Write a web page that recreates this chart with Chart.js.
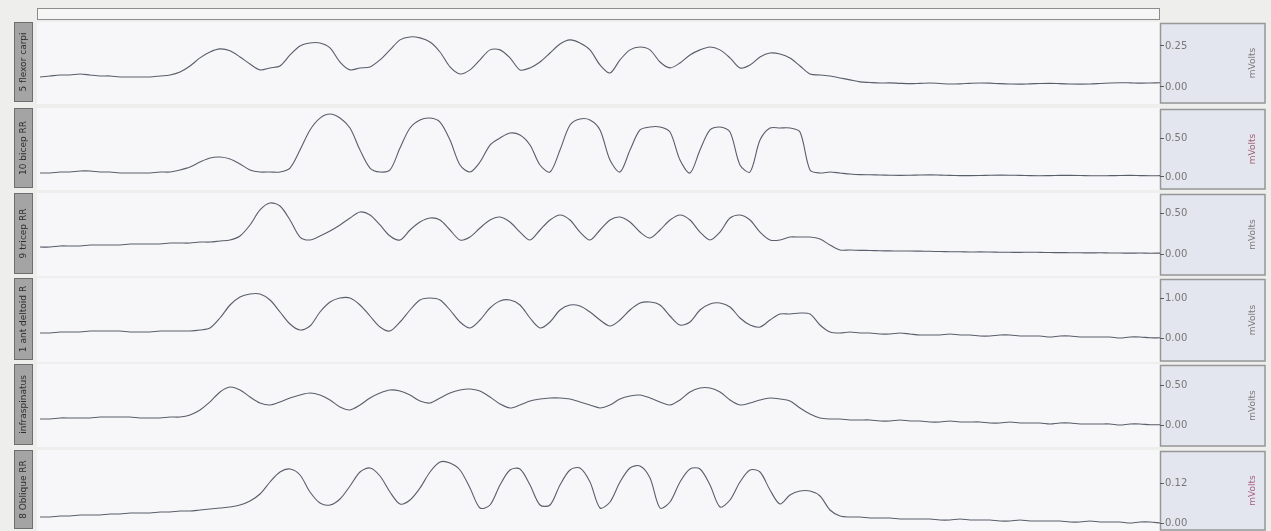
<!DOCTYPE html>
<html>
<head>
<meta charset="utf-8">
<title>EMG channels</title>
<script src="https://cdn.jsdelivr.net/npm/chart.js@4.4.1/dist/chart.umd.min.js"></script>
<style>
  html, body { margin: 0; padding: 0; background: #eeeeec; }
  #board { position: relative; width: 1271px; height: 531px; overflow: hidden; }
  #board canvas { position: absolute; left: 0; }
  #timebar { position: absolute; left: 37px; top: 8px; width: 1121px; height: 10px;
             border: 1px solid #8c8c8c; background: #f6f6f6; }
</style>
</head>
<body>
<div id="board"><div id="timebar"></div></div>
<script>
// Rectified, smoothed EMG envelopes (mV), one sample every 0.1 s
const flexorCarpi = [
  0.061,0.067,0.073,0.073,0.079,0.073,0.067,0.067,0.061,0.061,0.061,0.061,0.067,0.073,0.091,0.128,0.177,0.213,0.232,0.220,
  0.183,0.140,0.104,0.116,0.128,0.195,0.250,0.268,0.268,0.238,0.152,0.104,0.116,0.122,0.165,0.226,0.287,0.305,0.299,0.274,
  0.213,0.122,0.079,0.104,0.165,0.226,0.226,0.177,0.104,0.116,0.152,0.207,0.262,0.287,0.268,0.226,0.134,0.085,0.165,0.226,
  0.244,0.226,0.152,0.116,0.146,0.195,0.226,0.244,0.226,0.177,0.116,0.134,0.183,0.207,0.201,0.177,0.128,0.079,0.073,0.067,
  0.055,0.043,0.031,0.027,0.024,0.025,0.022,0.020,0.022,0.024,0.021,0.018,0.019,0.022,0.024,0.023,0.020,0.018,0.017,0.019,
  0.021,0.022,0.020,0.018,0.017,0.018,0.021,0.024,0.026,0.025,0.023,0.024,0.026
];
const bicep = [
  0.051,0.051,0.064,0.064,0.077,0.077,0.064,0.064,0.051,0.051,0.051,0.051,0.064,0.064,0.090,0.128,0.192,0.244,0.256,0.231,
  0.167,0.090,0.064,0.064,0.064,0.115,0.346,0.603,0.756,0.808,0.756,0.628,0.346,0.115,0.064,0.090,0.372,0.628,0.731,0.756,
  0.705,0.474,0.154,0.064,0.192,0.410,0.500,0.564,0.538,0.410,0.154,0.064,0.346,0.667,0.744,0.731,0.603,0.218,0.064,0.346,
  0.603,0.641,0.641,0.577,0.218,0.051,0.346,0.603,0.641,0.577,0.154,0.064,0.474,0.628,0.628,0.628,0.577,0.090,0.051,0.064,
  0.051,0.038,0.030,0.028,0.025,0.022,0.020,0.022,0.025,0.027,0.024,0.020,0.018,0.017,0.019,0.022,0.024,0.023,0.020,0.017,
  0.016,0.018,0.020,0.021,0.019,0.016,0.015,0.017,0.019,0.020,0.018,0.016,0.017
];
const tricep = [
  0.085,0.085,0.098,0.098,0.098,0.110,0.110,0.110,0.110,0.122,0.122,0.122,0.122,0.134,0.134,0.134,0.146,0.146,0.159,0.171,
  0.220,0.354,0.537,0.622,0.585,0.415,0.207,0.171,0.220,0.280,0.354,0.439,0.512,0.476,0.354,0.220,0.171,0.293,0.390,0.439,
  0.415,0.293,0.171,0.207,0.317,0.415,0.451,0.390,0.268,0.171,0.293,0.415,0.476,0.415,0.268,0.171,0.293,0.415,0.451,0.390,
  0.268,0.195,0.293,0.415,0.476,0.415,0.268,0.171,0.268,0.439,0.476,0.415,0.268,0.171,0.171,0.207,0.207,0.207,0.183,0.110,
  0.049,0.049,0.045,0.043,0.040,0.038,0.036,0.037,0.035,0.033,0.030,0.028,0.027,0.025,0.026,0.024,0.022,0.021,0.020,0.022,
  0.020,0.018,0.017,0.016,0.015,0.014,0.015,0.013,0.012,0.011,0.012,0.010,0.011
];
const antDeltoid = [
  0.125,0.125,0.150,0.150,0.150,0.175,0.175,0.175,0.175,0.150,0.150,0.150,0.175,0.175,0.175,0.175,0.200,0.250,0.500,0.825,
  1.025,1.100,1.100,0.950,0.650,0.350,0.200,0.300,0.650,0.900,1.000,1.000,0.825,0.550,0.275,0.175,0.400,0.700,0.950,1.000,
  0.950,0.700,0.400,0.250,0.450,0.750,0.925,0.950,0.825,0.500,0.250,0.400,0.700,0.825,0.800,0.650,0.450,0.300,0.450,0.700,
  0.875,0.900,0.825,0.550,0.325,0.400,0.700,0.850,0.875,0.775,0.500,0.325,0.275,0.450,0.600,0.600,0.625,0.600,0.325,0.150,
  0.125,0.150,0.125,0.125,0.100,0.100,0.125,0.100,0.075,0.075,0.075,0.100,0.075,0.075,0.050,0.050,0.075,0.075,0.050,0.050,
  0.050,0.025,0.050,0.050,0.025,0.025,0.025,0.025,0.000,0.025,0.025,0.005,0.005
];
const infraspinatus = [
  0.075,0.075,0.088,0.088,0.088,0.088,0.100,0.100,0.100,0.100,0.088,0.088,0.088,0.100,0.100,0.125,0.188,0.288,0.413,0.475,
  0.438,0.350,0.275,0.250,0.288,0.338,0.375,0.400,0.375,0.313,0.225,0.188,0.250,0.338,0.400,0.438,0.425,0.375,0.300,0.275,
  0.338,0.400,0.438,0.450,0.425,0.350,0.263,0.213,0.250,0.300,0.325,0.338,0.338,0.325,0.288,0.250,0.213,0.250,0.325,0.363,
  0.375,0.338,0.288,0.250,0.313,0.413,0.463,0.463,0.413,0.313,0.250,0.275,0.313,0.338,0.325,0.300,0.213,0.138,0.088,0.075,
  0.075,0.063,0.063,0.063,0.050,0.050,0.063,0.050,0.050,0.038,0.038,0.050,0.038,0.038,0.038,0.025,0.025,0.038,0.025,0.025,
  0.025,0.013,0.025,0.025,0.013,0.013,0.013,0.013,0.000,0.013,0.013,0.003,0.003
];
const oblique = [
  0.018,0.018,0.021,0.021,0.024,0.024,0.024,0.027,0.027,0.030,0.030,0.030,0.033,0.033,0.036,0.036,0.039,0.042,0.045,0.048,
  0.054,0.066,0.087,0.123,0.153,0.162,0.144,0.093,0.060,0.054,0.072,0.111,0.153,0.165,0.141,0.093,0.057,0.069,0.105,0.153,
  0.183,0.180,0.159,0.105,0.045,0.054,0.114,0.159,0.162,0.114,0.054,0.054,0.114,0.159,0.165,0.123,0.045,0.063,0.123,0.165,
  0.171,0.135,0.045,0.063,0.123,0.162,0.162,0.114,0.048,0.069,0.123,0.159,0.153,0.099,0.057,0.084,0.096,0.096,0.081,0.039,
  0.021,0.018,0.018,0.015,0.015,0.015,0.012,0.012,0.012,0.012,0.009,0.009,0.012,0.009,0.009,0.009,0.006,0.006,0.009,0.006,
  0.006,0.006,0.006,0.003,0.003,0.006,0.003,0.003,0.003,0.000,0.003,0.003,0.000
];

// Channel names and the upper tick shown on each channel's mV axis
const channelNames = ['5 flexor carpi', '10 bicep RR', '9 tricep RR', '1 ant deltoid R', 'infraspinatus', '8 Oblique RR'];
const upperTicks = [0.25, 0.50, 0.50, 1.00, 0.50, 0.12];

const SAMPLE_STEP = 0.1; // seconds between samples
const sampleTimes = flexorCarpi.map((_, i) => +(i * SAMPLE_STEP).toFixed(1));

// Strip layout: canvas placement and the visible mV range of each strip
const strips = [
  { values: flexorCarpi,   top: 22,  height: 82, min: -0.104, max: 0.396, unitColor: '#7a7a7a' },
  { values: bicep,         top: 108, height: 82, min: -0.167, max: 0.885, unitColor: '#a0606e' },
  { values: tricep,        top: 193, height: 83, min: -0.268, max: 0.744, unitColor: '#7a7a7a' },
  { values: antDeltoid,    top: 278, height: 84, min: -0.600, max: 1.500, unitColor: '#7a7a7a' },
  { values: infraspinatus, top: 364, height: 83, min: -0.275, max: 0.7625, unitColor: '#7a7a7a' },
  { values: oblique,       top: 450, height: 81, min: -0.024, max: 0.219, unitColor: '#a8607e' }
];

const AXIS_BOX = 106;
const FONT = 'DejaVu Sans';

// Draws the strip background, the unit box on the right and the name tab on the left
const stripDecor = {
  id: 'stripDecor',
  beforeDraw(chart, args, opts) {
    const { ctx, chartArea: a } = chart;
    ctx.save();
    ctx.fillStyle = '#f7f7f9';
    ctx.fillRect(a.left - 1, a.top, a.right - a.left + 1, a.bottom - a.top);
    // unit box
    ctx.fillStyle = '#e3e6ee';
    ctx.fillRect(a.right, a.top + 1, AXIS_BOX, a.bottom - a.top - 1);
    ctx.strokeStyle = '#979797';
    ctx.lineWidth = 1.5;
    ctx.strokeRect(a.right + 0.5, a.top + 1.5, AXIS_BOX - 1.5, a.bottom - a.top - 2.5);
    // name tab
    ctx.fillStyle = '#a4a4a4';
    ctx.fillRect(14, a.top, 19, a.bottom - a.top - 2);
    ctx.strokeStyle = '#6e6e6e';
    ctx.lineWidth = 1;
    ctx.strokeRect(14.5, a.top + 0.5, 18, a.bottom - a.top - 3);
    ctx.restore();
  },
  afterDraw(chart, args, opts) {
    const { ctx, chartArea: a } = chart;
    const midY = (a.top + a.bottom) / 2;
    ctx.save();
    ctx.textAlign = 'center';
    ctx.textBaseline = 'middle';
    // channel name, reading upward
    ctx.translate(24, midY - 1);
    ctx.rotate(-Math.PI / 2);
    ctx.fillStyle = '#2e2e2e';
    ctx.font = '9px "' + FONT + '"';
    ctx.fillText(opts.name, 0, 0);
    ctx.restore();
    ctx.save();
    ctx.textAlign = 'center';
    ctx.textBaseline = 'middle';
    ctx.translate(a.right + AXIS_BOX - 13, midY);
    ctx.rotate(-Math.PI / 2);
    ctx.fillStyle = opts.unitColor;
    ctx.font = '9px "' + FONT + '"';
    ctx.fillText('mVolts', 0, 0);
    ctx.restore();
  }
};

const board = document.getElementById('board');

strips.forEach((s, k) => {
  const canvas = document.createElement('canvas');
  canvas.width = 1271;
  canvas.height = s.height;
  canvas.style.top = s.top + 'px';
  board.appendChild(canvas);

  new Chart(canvas, {
    type: 'line',
    data: {
      datasets: [{
        data: s.values.map((v, i) => ({ x: sampleTimes[i], y: v })),
        borderColor: '#595e6b',
        borderWidth: 1.1,
        pointRadius: 0,
        tension: 0.3,
        fill: false
      }]
    },
    options: {
      responsive: false,
      animation: false,
      events: [],
      layout: { padding: { left: 38, right: 5, top: 0, bottom: 0 } },
      plugins: {
        legend: { display: false },
        tooltip: { enabled: false },
        stripDecor: { name: channelNames[k], unitColor: s.unitColor }
      },
      scales: {
        x: { type: 'linear', display: false, min: -0.02, max: 11.2 },
        y: {
          position: 'right',
          min: s.min,
          max: s.max,
          afterBuildTicks: scale => { scale.ticks = [{ value: 0 }, { value: upperTicks[k] }]; },
          afterFit: scale => { scale.width = AXIS_BOX; scale.paddingTop = 0; scale.paddingBottom = 0; },
          ticks: {
            callback: v => Number(v).toFixed(2),
            color: '#777777',
            font: { family: FONT, size: 10 },
            padding: 1
          },
          grid: { drawOnChartArea: false, tickLength: 4, color: '#5a5a5a' },
          border: { display: false }
        }
      }
    },
    plugins: [stripDecor]
  });
});
</script>
</body>
</html>
